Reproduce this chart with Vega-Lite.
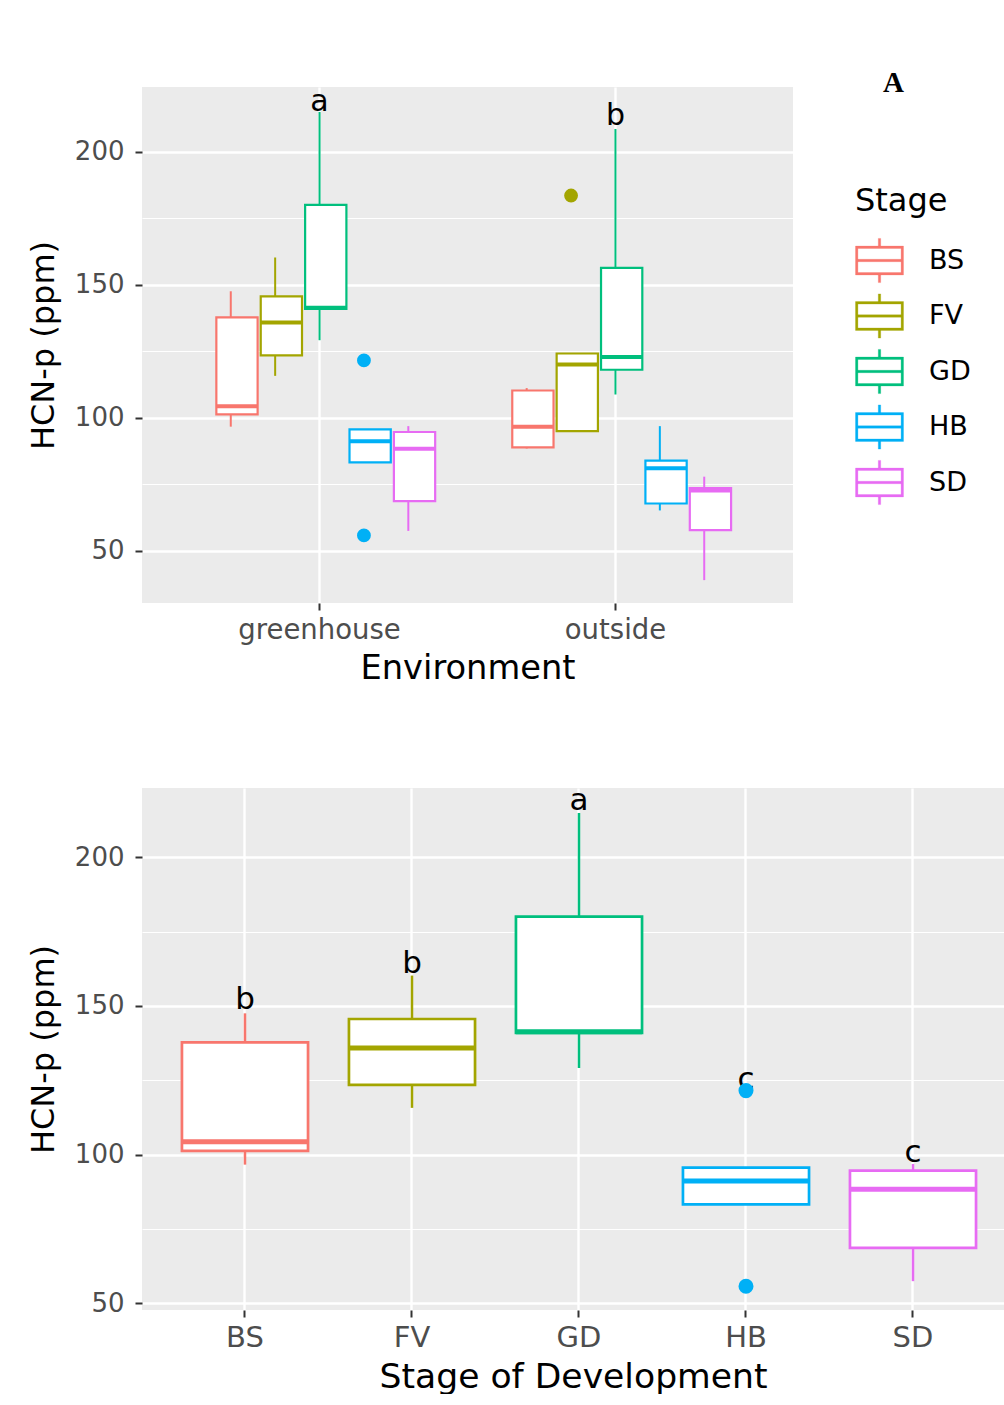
{
  "$schema": "https://vega.github.io/schema/vega-lite/v6.json",
  "background": "white",
  "padding": {"left": 27, "top": 69, "right": 0, "bottom": 0},
  "spacing": 99,
  "align": "none",
  "resolve": {"scale": {"x": "independent", "y": "independent", "stroke": "independent", "fill": "independent", "xOffset": "independent"}},
  "datasets": {
    "box": [
      {"Environment": "greenhouse", "Stage": "BS", "lower": 96.6, "q1": 101.2, "median": 104.3, "q3": 137.7, "upper": 147.5},
      {"Environment": "greenhouse", "Stage": "FV", "lower": 115.7, "q1": 123.4, "median": 135.8, "q3": 145.6, "upper": 160.2},
      {"Environment": "greenhouse", "Stage": "GD", "lower": 129.1, "q1": 140.9, "median": 141.3, "q3": 180.0, "upper": 214.9},
      {"Environment": "greenhouse", "Stage": "HB", "lower": 83.2, "q1": 83.2, "median": 91.1, "q3": 95.6, "upper": 95.6},
      {"Environment": "greenhouse", "Stage": "SD", "lower": 57.4, "q1": 68.6, "median": 88.3, "q3": 94.6, "upper": 96.8},
      {"Environment": "outside", "Stage": "BS", "lower": 88.4, "q1": 88.8, "median": 96.6, "q3": 110.2, "upper": 111.1},
      {"Environment": "outside", "Stage": "FV", "lower": 94.9, "q1": 94.9, "median": 120.0, "q3": 124.1, "upper": 124.1},
      {"Environment": "outside", "Stage": "GD", "lower": 108.7, "q1": 118.0, "median": 122.8, "q3": 156.3, "upper": 208.5},
      {"Environment": "outside", "Stage": "HB", "lower": 65.1, "q1": 67.7, "median": 81.0, "q3": 83.8, "upper": 96.8},
      {"Environment": "outside", "Stage": "SD", "lower": 38.9, "q1": 57.7, "median": 72.6, "q3": 73.5, "upper": 77.8}
    ],
    "out": [
      {"Environment": "greenhouse", "Stage": "HB", "value": 121.5},
      {"Environment": "greenhouse", "Stage": "HB", "value": 55.7},
      {"Environment": "outside", "Stage": "FV", "value": 183.5}
    ],
    "lab_env": [
      {"Environment": "greenhouse", "Stage": "GD", "y": 218.6, "label": "a"},
      {"Environment": "outside", "Stage": "GD", "y": 213.4, "label": "b"}
    ],
    "lab_stage": [
      {"Stage": "BS", "y": 151.9, "label": "b"},
      {"Stage": "FV", "y": 164.0, "label": "b"},
      {"Stage": "GD", "y": 218.9, "label": "a"},
      {"Stage": "HB", "y": 125.2, "label": "c"},
      {"Stage": "SD", "y": 100.5, "label": "c"}
    ]
  },
  "config": {
    "font": "DejaVu Sans",
    "view": {"fill": "#ebebeb", "stroke": null},
    "axis": {
      "domain": false,
      "gridColor": "white",
      "gridWidth": 2.4,
      "tickColor": "#333333",
      "tickSize": 7,
      "tickWidth": 2,
      "labelColor": "#4d4d4d",
      "labelFont": "DejaVu Sans",
      "titleFont": "DejaVu Sans",
      "titleColor": "black",
      "titleFontWeight": "normal",
      "labelFontSize": 26,
      "titleFontSize": 32
    },
    "legend": {
      "titleFont": "DejaVu Sans",
      "titleFontSize": 32,
      "titleFontWeight": "normal",
      "titleColor": "black",
      "labelFont": "DejaVu Sans",
      "labelFontSize": 27,
      "labelColor": "black",
      "symbolType": "M-1,-0.6H1V0.6H-1Z M-0.9,-0.5V0.5H0.9V-0.5Z M-0.9,-0.05H0.9V0.05H-0.9Z M-0.05,-0.92H0.05V-0.6H-0.05Z M-0.05,0.6H0.05V0.92H-0.05Z",
      "symbolSize": 2304,
      "symbolStrokeWidth": 0.3,
      "titlePadding": 18,
      "rowPadding": 7.5,
      "labelOffset": 25
    }
  },
  "vconcat": [
    {
      "width": 651,
      "height": 516,
      "title": {"text": "A", "font": "Liberation Serif", "fontSize": 29, "fontWeight": "bold", "color": "black", "anchor": "start", "frame": "group", "dx": 741, "offset": -11},
      "encoding": {
        "x": {"field": "Environment", "type": "nominal", "sort": ["greenhouse", "outside"],
              "scale": {"paddingInner": 0.25, "paddingOuter": 0.225},
              "axis": {"title": "Environment", "labelAngle": 0, "bandPosition": 0.5, "grid": true, "labelPadding": 6, "titlePadding": 8, "labelFontSize": 27.5, "titleFontSize": 33.7}},
        "xOffset": {"field": "Stage", "type": "nominal", "sort": ["BS", "FV", "GD", "HB", "SD"], "scale": {"paddingInner": 0, "paddingOuter": 0}}
      },
      "layer": [
        {
          "data": {"name": "lab_env"},
          "mark": {"type": "text", "fontSize": 30, "baseline": "middle", "font": "DejaVu Sans", "color": "black"},
          "encoding": {
            "y": {"field": "y", "type": "quantitative", "scale": {"domain": [30.3, 224.3], "nice": false, "zero": false},
                  "axis": {"values": [75, 125, 175], "orient": "right", "grid": true, "gridWidth": 1.2, "labels": false, "ticks": false, "domain": false, "title": null}},
            "text": {"field": "label"}
          }
        },
        {
          "encoding": {
            "stroke": {"field": "Stage", "type": "nominal",
                       "scale": {"domain": ["BS", "FV", "GD", "HB", "SD"], "range": ["#F8766D", "#A3A500", "#00BF7D", "#00B0F6", "#E76BF3"]},
                       "legend": {"title": "Stage", "orient": "none", "legendX": 713, "legendY": 99}}
          },
          "layer": [
            {
              "data": {"name": "box"},
              "mark": {"type": "rule", "strokeWidth": 2},
              "encoding": {
                "y": {"field": "lower", "type": "quantitative", "title": "HCN-p (ppm)", "scale": {"domain": [30.3, 224.3], "nice": false, "zero": false},
                      "axis": {"values": [50, 100, 150, 200], "grid": true, "labelPadding": 11, "titlePadding": 14}},
                "y2": {"field": "upper"}
              }
            },
            {
              "data": {"name": "box"},
              "mark": {"type": "bar", "fill": "white", "strokeWidth": 2.2, "width": {"band": 0.93}},
              "encoding": {
                "y": {"field": "q1", "type": "quantitative", "title": "HCN-p (ppm)", "scale": {"domain": [30.3, 224.3], "nice": false, "zero": false},
                      "axis": {"values": [50, 100, 150, 200], "grid": true, "labelPadding": 11, "titlePadding": 14}},
                "y2": {"field": "q3"}
              }
            },
            {
              "data": {"name": "box"},
              "mark": {"type": "bar", "fill": null, "strokeWidth": 4, "width": {"band": 0.93}},
              "encoding": {
                "y": {"field": "median", "type": "quantitative", "title": "HCN-p (ppm)", "scale": {"domain": [30.3, 224.3], "nice": false, "zero": false},
                      "axis": {"values": [50, 100, 150, 200], "grid": true, "labelPadding": 11, "titlePadding": 14}},
                "y2": {"field": "median"}
              }
            },
            {
              "data": {"name": "out"},
              "mark": {"type": "point", "filled": true, "size": 140, "opacity": 1},
              "encoding": {
                "y": {"field": "value", "type": "quantitative", "title": "HCN-p (ppm)", "scale": {"domain": [30.3, 224.3], "nice": false, "zero": false},
                      "axis": {"values": [50, 100, 150, 200], "grid": true, "labelPadding": 11, "titlePadding": 14}},
                "fill": {"field": "Stage", "type": "nominal",
                         "scale": {"domain": ["BS", "FV", "GD", "HB", "SD"], "range": ["#F8766D", "#A3A500", "#00BF7D", "#00B0F6", "#E76BF3"]},
                         "legend": null}
              }
            }
          ]
        }
      ],
      "resolve": {"axis": {"y": "independent"}}
    },
    {
      "width": 862,
      "height": 522,
      "encoding": {
        "x": {"field": "Stage", "type": "nominal", "sort": ["BS", "FV", "GD", "HB", "SD"],
              "scale": {"paddingInner": 0, "paddingOuter": 0.0808, "align": 0.722},
              "axis": {"title": "Stage of Development", "labelAngle": 0, "bandPosition": 0.5, "grid": true, "labelPadding": 6, "titlePadding": 8, "labelFontSize": 29, "titleFontSize": 34.6}}
      },
      "layer": [
        {
          "data": {"name": "lab_stage"},
          "mark": {"type": "text", "fontSize": 31, "baseline": "middle", "font": "DejaVu Sans", "color": "black"},
          "encoding": {
            "y": {"field": "y", "type": "quantitative", "scale": {"domain": [47.7, 223.3], "nice": false, "zero": false},
                  "axis": {"values": [75, 125, 175], "orient": "right", "grid": true, "gridWidth": 1.2, "labels": false, "ticks": false, "domain": false, "title": null}},
            "text": {"field": "label"}
          }
        },
        {
          "encoding": {
            "stroke": {"field": "Stage", "type": "nominal",
                       "scale": {"domain": ["BS", "FV", "GD", "HB", "SD"], "range": ["#F8766D", "#A3A500", "#00BF7D", "#00B0F6", "#E76BF3"]},
                       "legend": null}
          },
          "layer": [
            {
              "data": {"name": "box"},
              "transform": [{"filter": "datum.Environment === 'greenhouse'"}],
              "mark": {"type": "rule", "strokeWidth": 2.5},
              "encoding": {
                "y": {"field": "lower", "type": "quantitative", "title": "HCN-p (ppm)", "scale": {"domain": [47.7, 223.3], "nice": false, "zero": false},
                      "axis": {"values": [50, 100, 150, 200], "grid": true, "labelPadding": 11, "titlePadding": 14}},
                "y2": {"field": "upper"}
              }
            },
            {
              "data": {"name": "box"},
              "transform": [{"filter": "datum.Environment === 'greenhouse'"}],
              "mark": {"type": "bar", "fill": "white", "strokeWidth": 2.7, "width": {"band": 0.755}},
              "encoding": {
                "y": {"field": "q1", "type": "quantitative", "title": "HCN-p (ppm)", "scale": {"domain": [47.7, 223.3], "nice": false, "zero": false},
                      "axis": {"values": [50, 100, 150, 200], "grid": true, "labelPadding": 11, "titlePadding": 14}},
                "y2": {"field": "q3"}
              }
            },
            {
              "data": {"name": "box"},
              "transform": [{"filter": "datum.Environment === 'greenhouse'"}],
              "mark": {"type": "bar", "fill": null, "strokeWidth": 5, "width": {"band": 0.755}},
              "encoding": {
                "y": {"field": "median", "type": "quantitative", "title": "HCN-p (ppm)", "scale": {"domain": [47.7, 223.3], "nice": false, "zero": false},
                      "axis": {"values": [50, 100, 150, 200], "grid": true, "labelPadding": 11, "titlePadding": 14}},
                "y2": {"field": "median"}
              }
            },
            {
              "data": {"name": "out"},
              "transform": [{"filter": "datum.Environment === 'greenhouse'"}],
              "mark": {"type": "point", "filled": true, "size": 170, "opacity": 1},
              "encoding": {
                "y": {"field": "value", "type": "quantitative", "title": "HCN-p (ppm)", "scale": {"domain": [47.7, 223.3], "nice": false, "zero": false},
                      "axis": {"values": [50, 100, 150, 200], "grid": true, "labelPadding": 11, "titlePadding": 14}},
                "fill": {"field": "Stage", "type": "nominal",
                         "scale": {"domain": ["BS", "FV", "GD", "HB", "SD"], "range": ["#F8766D", "#A3A500", "#00BF7D", "#00B0F6", "#E76BF3"]},
                         "legend": null}
              }
            }
          ]
        }
      ],
      "resolve": {"axis": {"y": "independent"}}
    }
  ]
}
